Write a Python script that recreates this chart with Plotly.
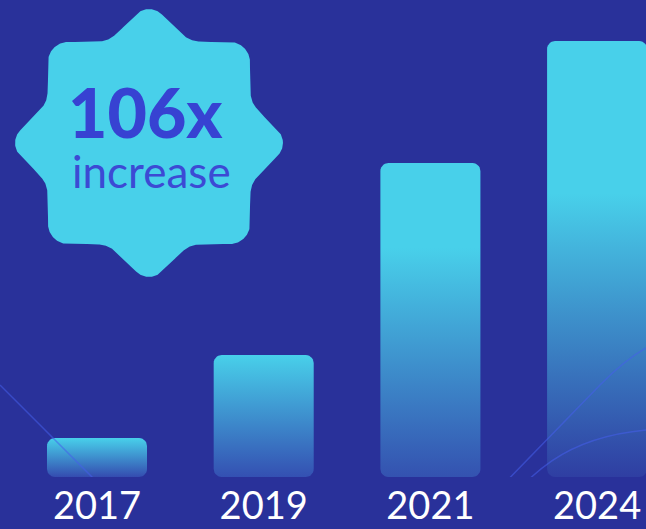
import numpy as np
import plotly.graph_objects as go

# ---- data ----
years = ["2017", "2019", "2021", "2024"]
values = [39, 122, 314, 436]
badge_value = "106x"
badge_label = "increase"

# ---- style ----
bottom_colors = ["#344cb0", "#3450b2", "#3452b0", "#2f3ea2"]
grad_fracs = [1.0, 1.0, 0.73, 0.65]

BG = "#29319a"
CYAN = "#48d0ea"
W, H = 646, 529
MB = 52
PLOT_H = H - MB
SPACING = 166.7
FIRST = 97
BAR_W = 0.6
XR = [-FIRST / SPACING, (W - FIRST) / SPACING]
YR = [0, PLOT_H]

fig = go.Figure()


def rounded_rect(x0, x1, y0, y1, rx, ry, n=8):
    pts = []
    corners = [
        (x1 - rx, y1 - ry, 0, 90),
        (x0 + rx, y1 - ry, 90, 180),
        (x0 + rx, y0 + ry, 180, 270),
        (x1 - rx, y0 + ry, 270, 360),
    ]
    for cx_, cy_, a0, a1 in corners:
        for a in np.linspace(np.radians(a0), np.radians(a1), n):
            pts.append((cx_ + rx * np.cos(a), cy_ + ry * np.sin(a)))
    pts.append(pts[0])
    xs, ys = zip(*pts)
    return list(xs), list(ys)


rx = 8 / SPACING
ry = 8 * (YR[1] - YR[0]) / PLOT_H
for i, (yr, v, bc, gf) in enumerate(zip(years, values, bottom_colors, grad_fracs)):
    xs, ys = rounded_rect(i - BAR_W / 2, i + BAR_W / 2, 0, v, rx, ry)
    if gf < 1:
        cs = [[0, bc], [gf, CYAN], [1, CYAN]]
    else:
        cs = [[0, bc], [1, CYAN]]
    fig.add_trace(go.Scatter(
        x=xs, y=ys, mode="lines", fill="toself",
        line=dict(width=0, color=CYAN),
        fillgradient=dict(type="vertical", colorscale=cs),
        hoverinfo="skip", showlegend=False,
    ))


# ---- badge (8-point rounded star) on pixel overlay axes ----
def rounded_square_r(theta, a, c):
    u = np.stack([np.abs(np.cos(theta)), np.abs(np.sin(theta))], axis=-1)
    r = np.empty(theta.shape)
    for j, (ux, uy) in enumerate(u):
        m = max(ux, uy)
        t = a / m
        px, py = t * ux, t * uy
        if min(px, py) <= a - c:
            r[j] = t
        else:
            p = np.array([a - c, a - c])
            up = ux * p[0] + uy * p[1]
            r[j] = up + np.sqrt(up * up - p @ p + c * c)
    return r


bcx, bcy = 149, 143
th = np.linspace(0, 2 * np.pi, 1441)
r1 = rounded_square_r(th, 101, 20)
r2 = rounded_square_r(th - np.pi / 4, 100, 18)
k = 30
r = (r1 ** k + r2 ** k) ** (1 / k)
fig.add_trace(go.Scatter(
    x=bcx + r * np.cos(th), y=bcy + r * np.sin(th), xaxis="x2", yaxis="y2",
    mode="lines", fill="toself", fillcolor=CYAN, line=dict(width=0, color=CYAN),
    hoverinfo="skip", showlegend=False,
))

fig.add_annotation(x=145, y=111, xref="x2", yref="y2", text=badge_value,
                   showarrow=False, xanchor="center", yanchor="middle",
                   font=dict(family="Lato", size=68, color="#3742d2", weight=900))
fig.add_annotation(x=151, y=171, xref="x2", yref="y2", text=badge_label,
                   showarrow=False, xanchor="center", yanchor="middle",
                   font=dict(family="Lato", size=44, color="#3c4ad4"))

# ---- decorative lines ----
LC = "rgba(70,95,235,0.55)"
fig.add_shape(type="line", xref="x2", yref="y2", x0=0, y0=385, x1=144, y1=529,
              line=dict(color=LC, width=1.5), layer="above")
fig.add_shape(type="path", xref="x2", yref="y2",
              path="M 460 529 L 600 385 Q 625 360 646 348",
              line=dict(color=LC, width=1.5), layer="above")
fig.add_shape(type="path", xref="x2", yref="y2",
              path="M 483 529 C 530 475 560 438 646 430",
              line=dict(color=LC, width=1.5), layer="above")

fig.update_layout(
    width=W, height=H,
    margin=dict(l=0, r=0, t=0, b=MB),
    paper_bgcolor=BG, plot_bgcolor=BG,
    xaxis=dict(range=XR, tickvals=list(range(len(years))), ticktext=years,
               showgrid=False, zeroline=False, showline=False, ticks="",
               tickfont=dict(family="Lato", size=38, color="#ffffff"),
               ticklabelstandoff=3, automargin=False, fixedrange=True),
    yaxis=dict(range=YR, visible=False, fixedrange=True),
    xaxis2=dict(range=[0, W], overlaying="x", visible=False, fixedrange=True),
    yaxis2=dict(range=[PLOT_H, 0], overlaying="y", visible=False, fixedrange=True),
    showlegend=False,
)

fig.write_html("out.html", config={"displayModeBar": False},
               post_script="document.body.style.margin='0';document.body.style.overflow='hidden';")
